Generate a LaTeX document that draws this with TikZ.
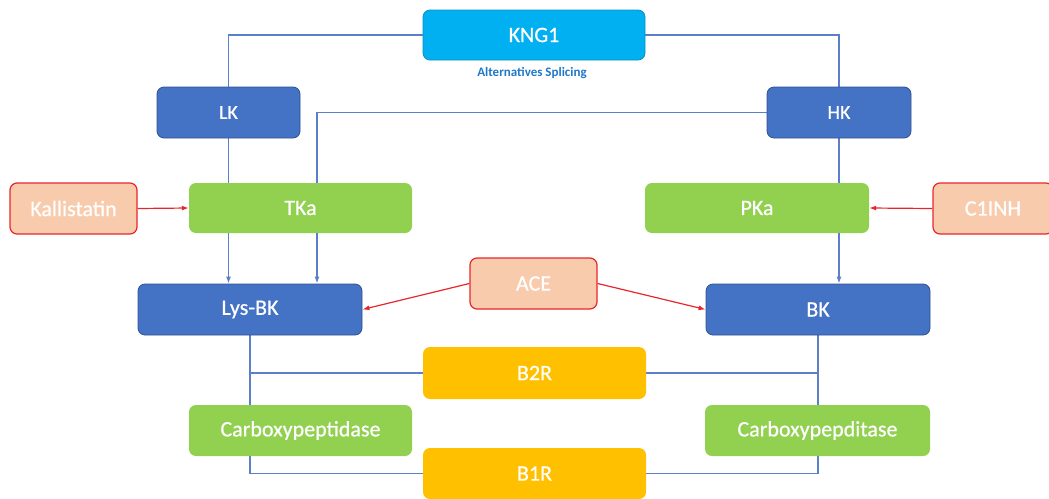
\documentclass[tikz,border=0pt]{standalone}
\usepackage{fontspec}
\setmainfont{Carlito}
\newfontfamily\semib{Carlito}[FakeBold=0.6]
\usetikzlibrary{arrows.meta,backgrounds}
\definecolor{kcyan}{HTML}{00B0F0}
\definecolor{kcyanD}{HTML}{0F8FC4}
\definecolor{kblue}{HTML}{4472C4}
\definecolor{kblueD}{HTML}{2F528F}
\definecolor{kgreen}{HTML}{92D050}
\definecolor{korange}{HTML}{FFC000}
\definecolor{ksalmon}{HTML}{F8CBAD}
\definecolor{kred}{HTML}{E8262A}
\definecolor{ktext}{HTML}{1F78C8}
\definecolor{kline}{HTML}{5B80C8}
\begin{document}
\begin{tikzpicture}[x=1pt,y=-1pt,
  base/.style={rounded corners=7pt, inner sep=0pt, text=white,
    font=\semib\fontsize{22}{26}\selectfont, minimum height=51pt},
  cyanbox/.style={base, fill=kcyan, draw=kcyanD, line width=0.8pt},
  bluebox/.style={base, fill=kblue, draw=kblueD, line width=0.8pt},
  greenbox/.style={base, fill=kgreen, draw=none},
  orangebox/.style={base, fill=korange, draw=none},
  inhbox/.style={base, fill=ksalmon, draw=kred, line width=1.2pt},
  small/.style={font=\semib\fontsize{20}{24}\selectfont},
  conn/.style={draw=kline, line width=1.2pt},
  arr/.style={conn, -{Latex[length=7pt,width=5pt]}},
  redarr/.style={draw=kred, line width=1.2pt, -{Latex[length=7pt,width=5pt]}}]
\useasboundingbox (0,0) rectangle (1049,498);
\node[cyanbox, minimum width=222pt, minimum height=50pt] (kng) at (534,35) {KNG1};
\node[text=ktext, font=\bfseries\fontsize{13}{15}\selectfont] (alt) at (532,73) {Alternatives Splicing};
\node[bluebox, small, minimum width=143pt] (lk) at (228.5,112.5) {LK};
\node[bluebox, small, minimum width=144pt] (hk) at (839,112.5) {HK};
\node[greenbox, minimum width=223pt, minimum height=50pt] (tka) at (300.5,208) {TKa};
\node[inhbox, minimum width=127pt] (kal) at (73.5,208.5) {Kallistatin};
\node[greenbox, minimum width=224pt, minimum height=50pt] (pka) at (757,208) {PKa};
\node[inhbox, minimum width=120pt] (c1) at (993,208.5) {C1INH};
\node[bluebox, minimum width=224pt] (lys) at (250,309.5) {Lys-BK};
\node[bluebox, minimum width=224pt] (bk) at (818,309.5) {BK};
\node[inhbox, minimum width=127pt] (ace) at (533.5,283.5) {ACE};
\node[orangebox, minimum width=223pt, minimum height=52pt] (b2r) at (534.5,373) {B2R};
\node[orangebox, minimum width=223pt] (b1r) at (534.5,473.5) {B1R};
\node[greenbox, minimum width=223pt] (cp1) at (300.5,430.5) {Carboxypeptidase};
\node[greenbox, minimum width=225pt] (cp2) at (817.5,430.5) {Carboxypepditase};
\coordinate (hkx) at (317,112.5);
\begin{scope}[on background layer]
\draw[conn] (kng.west) -| (lk.north);
\draw[conn] (kng.east) -| (hk.north);
\draw[conn] (lk.south) -- (tka.north -| lk.south);
\draw[conn] (hk.west) -- (hk.west -| hkx) -- (tka.north -| hkx);
\draw[conn] (hk.south) -- (pka.north -| hk.south);
\draw[conn] (lys.south) -- (lys.south |- b1r.west) -- (b1r.west);
\draw[conn] (lys.south |- b2r.west) -- (b2r.west);
\draw[conn] (bk.south) -- (bk.south |- b1r.east) -- (b1r.east);
\draw[conn] (bk.south |- b2r.east) -- (b2r.east);
\end{scope}
\draw[arr] (tka.south -| lk.south) -- (lys.north -| lk.south);
\draw[arr] (tka.south -| hkx) -- (lys.north -| hkx);
\draw[arr] (pka.south -| hk.south) -- (bk.north -| hk.south);
\draw[redarr] (kal.east) -- (tka.west);
\draw[redarr] (c1.west) -- (pka.east);
\draw[redarr] (ace.west) -- (lys.east);
\draw[redarr] (ace.east) -- (bk.west);
\end{tikzpicture}
\end{document}
